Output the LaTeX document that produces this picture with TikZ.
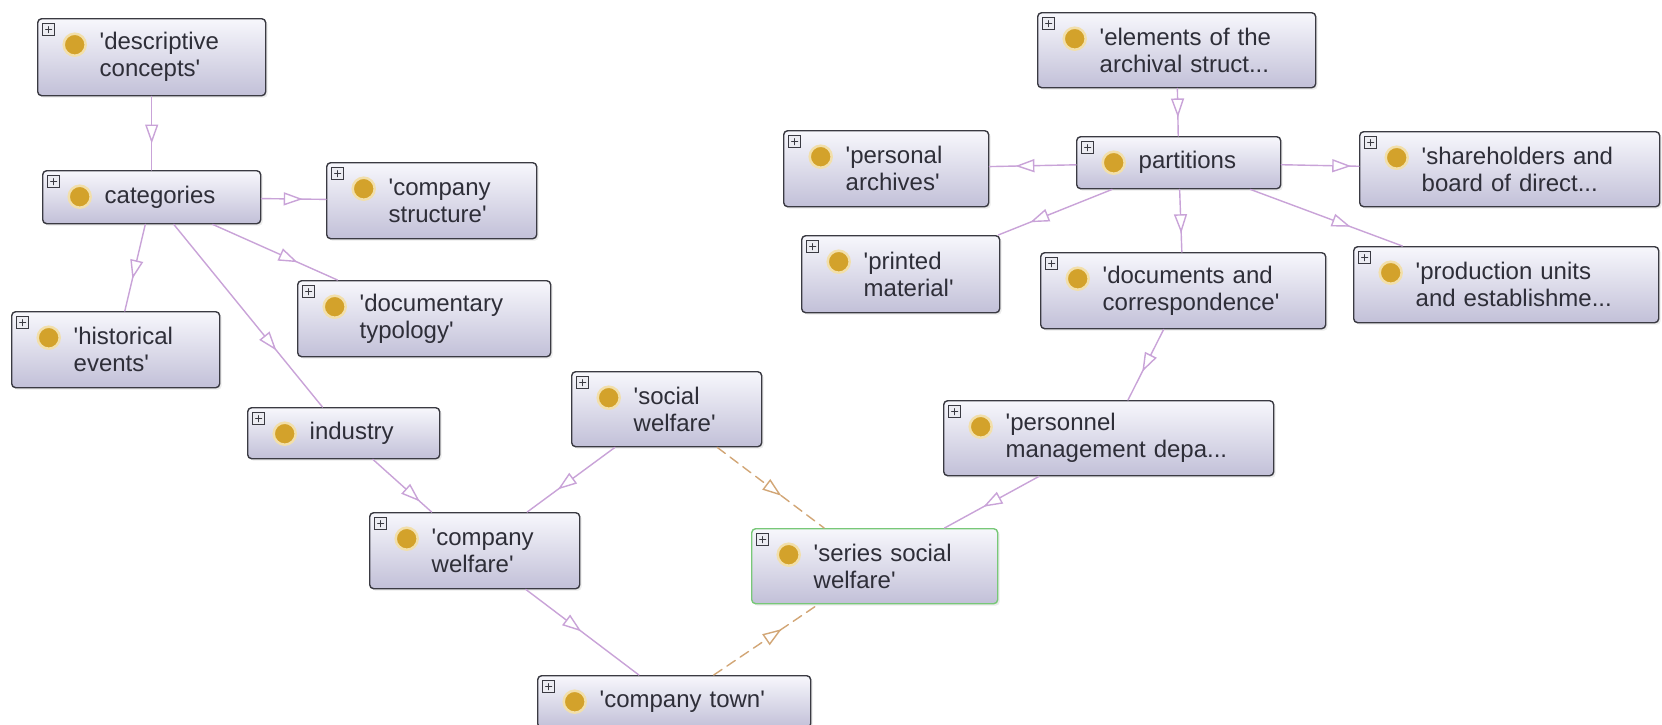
\documentclass[tikz,border=0pt]{standalone}
\usepackage{fontspec}
\setsansfont{Liberation Sans}
\usetikzlibrary{arrows.meta,decorations.markings,shadows}

\definecolor{boxline}{HTML}{3A3A42}
\definecolor{boxtop}{HTML}{F7F7FC}
\definecolor{boxbot}{HTML}{C2C0D8}
\definecolor{plusbg}{HTML}{ECECF2}
\definecolor{owlgold}{HTML}{D3A22B}
\definecolor{owlhalo}{HTML}{F2DFAA}
\definecolor{isaline}{HTML}{C9A3D8}
\definecolor{eqline}{HTML}{D2A676}
\definecolor{selgreen}{HTML}{78C878}
\definecolor{txt}{HTML}{2E2E38}

\newcommand{\sq}{\textquotesingle}

\begin{document}
\begin{tikzpicture}[x=1pt,y=-1pt,line cap=round,
		owl/.style={rectangle,rounded corners=4pt,draw=boxline,line width=1.4pt,
			top color=boxtop,bottom color=boxbot,anchor=north west,
			inner xsep=4pt,inner ysep=0pt,align=left,text=txt,
			font=\sffamily\fontsize{24}{27}\selectfont,
			execute at begin node={\leftskip=58pt},
			drop shadow={opacity=.15,shadow xshift=2pt,shadow yshift=-2pt},
			path picture={
				\draw[sharp corners,draw=boxline,fill=plusbg,line width=.8pt]
				([xshift=5pt,yshift=-5pt]path picture bounding box.north west) rectangle ++(12pt,-12pt);
				\draw[sharp corners,draw=boxline,line width=1.1pt]
				([xshift=8pt,yshift=-11pt]path picture bounding box.north west) -- ++(6pt,0pt)
				([xshift=11pt,yshift=-8pt]path picture bounding box.north west) -- ++(0pt,-6pt);
				\fill[owlgold,draw=owlhalo,line width=2.5pt]
				([xshift=37pt,yshift=-26pt]path picture bounding box.north west) circle[radius=11pt];}},
		isa/.style={draw=isaline,line width=1.4pt,postaction={decorate},
			decoration={markings,mark=at position #1 with
				{\arrow{Triangle[length=19pt,width=13pt,fill=white,line width=1.4pt]}}}},
		eqv/.style={isa=#1,draw=eqline,dash pattern=on 10pt off 6pt}]
		\useasboundingbox[fill=white] (0,0) rectangle (1662,724);
		%\draw[help lines] (0,0) grid[step=100] (1662,724);
		\foreach \n/\x/\y/\w/\h/\t in {
			desc/37/18/228/77/{\sq descriptive\\concepts\sq},
			cat/42/170/218/53/{categories},
			cstr/326/162/210/76/{\sq company\\structure\sq},
			doct/297/280/253/76/{\sq documentary\\typology\sq},
			hist/11/311/208/76/{\sq historical\\events\sq},
			ind/247/407/192/51/{industry},
			soc/571/371/190/75/{\sq social\\welfare\sq},
			cw/369/512/210/76/{\sq company\\welfare\sq},
			ctown/537/675/273/52/{\sq company town\sq},
			elem/1037/12/278/75/{\sq elements of the\\archival struct...},
			parch/783/130/205/76/{\sq personal\\archives\sq},
			part/1076/136/204/52/{partitions},
			share/1359/131/300/75/{\sq shareholders and\\board of direct...},
			print/801/235/198/77/{\sq printed\\material\sq},
			docs/1040/252/285/76/{\sq documents and\\correspondence\sq},
			prod/1353/246/305/76/{\sq production units\\and establishme...},
			pers/943/400/330/75/{\sq personnel\\management depa...}}
		\node[owl,minimum height=\h pt,text width=\w pt-8pt] (\n) at (\x,\y) {\t};
		% the selected class
		\node[owl,draw=selgreen,minimum height=75pt,text width=238pt] (ser) at (751,528)
		{\sq series social\\welfare\sq};
		% subclass links
		\foreach \a/\b/\p in {desc/cat/.64,cat/cstr/.64,cat/hist/.63,cat/ind/.69,
			cat/doct/.68,ind/cw/.8,soc/cw/.65,cw/ctown/.49,elem/part/.61,
			part/parch/.7,part/share/.9,part/print/.72,part/docs/.7,
			part/prod/.66,docs/pers/.6,pers/ser/.59}
		\draw[isa=\p] (\a) -- (\b);
		% equivalent class links
		\draw[eqv=.6] (soc) -- (ser);
		\draw[eqv=.65] (ctown) -- (ser);
\end{tikzpicture}
\end{document}
